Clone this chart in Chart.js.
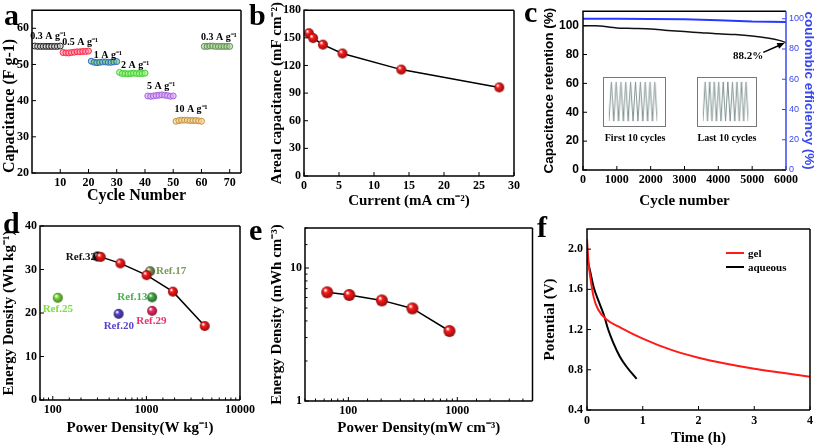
<!DOCTYPE html>
<html>
<head>
<meta charset="utf-8">
<script src="https://cdn.jsdelivr.net/npm/chart.js@4.4.0/dist/chart.umd.min.js"></script>
<style>
body{margin:0;background:#fff;width:817px;height:447px;position:relative;overflow:hidden;}
canvas{position:absolute;}
.letter{position:absolute;font-family:"Liberation Serif",serif;font-weight:bold;font-size:30px;line-height:30px;color:#000;}
.leg{position:absolute;font-family:"Liberation Serif",serif;font-weight:bold;font-size:11px;line-height:12px;}
.legline{position:absolute;height:2px;}
</style>
</head>
<body>
<canvas id="chartA" width="255" height="205" style="left:0;top:0"></canvas>
<canvas id="chartB" width="255" height="210" style="left:268px;top:0"></canvas>
<canvas id="chartC" width="276" height="210" style="left:541px;top:0"></canvas>
<canvas id="insetFirst" width="63" height="50" style="left:603px;top:77px;border:1px solid #777"></canvas>
<canvas id="insetLast" width="60" height="50" style="left:697px;top:77px;border:1px solid #777"></canvas>
<canvas id="chartD" width="258" height="222" style="left:0;top:215px"></canvas>
<canvas id="chartE" width="272" height="222" style="left:268px;top:215px"></canvas>
<canvas id="chartF" width="276" height="232" style="left:541px;top:215px"></canvas>

<div class="letter" style="left:4px;top:0px">a</div>
<div class="letter" style="left:249px;top:0px">b</div>
<div class="letter" style="left:524px;top:-3px">c</div>
<div class="letter" style="left:3px;top:208px">d</div>
<div class="letter" style="left:249px;top:215px">e</div>
<div class="letter" style="left:537px;top:212px">f</div>

<div class="legline" style="left:726px;top:252px;width:18px;background:#ff1a1a"></div>
<div class="leg" style="left:748px;top:247px">gel</div>
<div class="legline" style="left:726px;top:266px;width:18px;background:#000"></div>
<div class="leg" style="left:748px;top:261px">aqueous</div>

<script>
// ---------- panel a : rate capability ----------
var cycA = [];
for (var i = 1; i <= 70; i++) cycA.push(i);
var capA03 = [55.1, 55.0, 55.0, 55.0, 55.0, 55.0, 55.0, 55.0, 55.0, 55.1];
var capA05 = [53.3, 53.2, 53.2, 53.3, 53.4, 53.5, 53.5, 53.6, 53.6, 53.7];
var capA1 = [50.9, 50.6, 50.5, 50.6, 50.7, 50.7, 50.6, 50.6, 50.7, 50.8];
var capA2 = [47.8, 47.5, 47.5, 47.4, 47.5, 47.6, 47.5, 47.5, 47.5, 47.6];
var capA5 = [41.3, 41.2, 41.3, 41.4, 41.5, 41.6, 41.5, 41.4, 41.2, 41.3];
var capA10 = [34.3, 34.5, 34.6, 34.6, 34.6, 34.5, 34.5, 34.5, 34.4, 34.3];
var capA03b = [55.0, 55.0, 55.1, 55.1, 55.0, 55.0, 55.0, 55.0, 55.0, 55.0];
var tickAx = [10, 20, 30, 40, 50, 60, 70];
var tickAy = [20, 30, 40, 50, 60];
var rateLabels = ['0.3 A g\u207B\u00B9', '0.5 A g\u207B\u00B9', '1 A g\u207B\u00B9', '2 A g\u207B\u00B9', '5 A g\u207B\u00B9', '10 A g\u207B\u00B9', '0.3 A g\u207B\u00B9'];
var rateLabelX = [5.7, 17, 26.9, 36.5, 45.7, 56.3, 66.2];
var rateLabelY = [57.7, 56.0, 52.6, 49.6, 43.8, 37.5, 57.4];

// ---------- panel b : areal capacitance ----------
var currentB = [0.7, 1.3, 2.7, 5.5, 13.9, 27.9];
var arealB = [155, 149.7, 142.6, 133, 115.5, 96.2];

// ---------- panel c : cycling ----------
var cycC = [0, 300, 600, 800, 1000, 1500, 2000, 2500, 3000, 3500, 4000, 4500, 5000, 5500, 5800, 6000];
var retC = [100, 99.9, 99.6, 98.8, 98.4, 98.1, 97.7, 96.7, 95.9, 95.1, 94.3, 93.8, 92.8, 91.2, 89.8, 88.2];
var cycEffC = [0, 1000, 2000, 3000, 4000, 5000, 6000];
var effC = [100, 100, 99.9, 99.6, 99.0, 98.2, 97.9];
var tickCy = [0, 20, 40, 60, 80, 100];
var zigFirst = [0, 1, 0, 1, 0, 1, 0, 1, 0, 1, 0, 1, 0, 1, 0, 1, 0, 1, 0, 1, 0];
var zigLast = [0, 1, 0, 1, 0, 1, 0, 1, 0, 1, 0, 1, 0, 1, 0, 1, 0, 1, 0, 1, 0];

// ---------- panel d : Ragone (mass) ----------
var powerD = [325, 528, 1005, 1920, 4200];
var energyD = [32.9, 31.4, 28.7, 24.9, 17.0];
var refNames = ['Ref.32', 'Ref.17', 'Ref.13', 'Ref.29', 'Ref.20', 'Ref.25'];
var refPower = [300, 1095, 1150, 1150, 505, 113];
var refEnergy = [33.0, 29.6, 23.6, 20.5, 19.8, 23.5];
var refColors = ['#111111', '#7b9a55', '#46b04c', '#f0306a', '#5a45cc', '#7be03c'];
var refLabelX = [200, 1834, 710, 1130, 507, 113];
var refLabelY = [32.9, 29.7, 23.7, 18.2, 17.0, 20.9];

// ---------- panel e : Ragone (volume) ----------
var powerE = [64, 102, 203, 387, 847];
var energyE = [6.57, 6.27, 5.71, 4.97, 3.36];

// ---------- panel f : self discharge ----------
var timeGel = [0, 0.03, 0.06, 0.12, 0.2, 0.35, 0.6, 1.0, 1.5, 2.0, 2.5, 3.0, 3.5, 4.0];
var potGel = [2.1, 1.85, 1.72, 1.52, 1.4, 1.3, 1.22, 1.11, 1.0, 0.92, 0.86, 0.81, 0.77, 0.73];
var timeAq = [0, 0.06, 0.12, 0.21, 0.3, 0.38, 0.47, 0.59, 0.71, 0.89];
var potAq = [1.92, 1.77, 1.62, 1.48, 1.35, 1.2, 1.07, 0.93, 0.83, 0.71];
var tickFy = [0.4, 0.8, 1.2, 1.6, 2.0];

/******************************************************/
// helpers
var SERIF = '"Liberation Serif", "Times New Roman", serif';
var SANS = '"Liberation Sans", Arial, sans-serif';

function pts(xs, ys) {
    var out = [];
    for (var i = 0; i < xs.length; i++) out.push({x: xs[i], y: ys[i]});
    return out;
}

// shaded ball used as a marker
function sphere(color, r) {
    var c = document.createElement('canvas');
    c.width = c.height = r * 2 + 2;
    var g = c.getContext('2d');
    var grd = g.createRadialGradient(r + 1 - r * 0.35, r + 1 - r * 0.4, r * 0.1, r + 1, r + 1, r);
    grd.addColorStop(0, '#ffffff');
    grd.addColorStop(0.3, color);
    grd.addColorStop(1, shade(color));
    g.fillStyle = grd;
    g.beginPath();
    g.arc(r + 1, r + 1, r, 0, Math.PI * 2);
    g.fill();
    return c;
}
function shade(hex) {
    var n = parseInt(hex.slice(1), 16);
    var r = Math.round(((n >> 16) & 255) * 0.55), gg = Math.round(((n >> 8) & 255) * 0.55), b = Math.round((n & 255) * 0.55);
    return 'rgb(' + r + ',' + gg + ',' + b + ')';
}

// replace the generated ticks with a fixed list
function setTicks(list) {
    return function (scale) {
        scale.ticks = list.map(function (v) { return {value: v}; });
    };
}
function fixW(w) { return function (s) { s.width = w; }; }
function fixH(h) { return function (s) { s.height = h; }; }

function logLabel(v) {
    var l = Math.log10(v);
    return Math.abs(l - Math.round(l)) < 1e-6 ? String(Math.round(v)) : '';
}
function plain(v) { return String(v); }

// box frame + inward tick marks + free text in data coords
var framePlugin = {
    id: 'frameBox',
    afterDraw: function (chart) {
        var o = chart.options.plugins.frameBox;
        if (o === false || (o && o.off)) return;
        o = o || {};
        var ctx = chart.ctx, ca = chart.chartArea;
        ctx.save();
        Object.keys(chart.scales).forEach(function (k) {
            var s = chart.scales[k];
            if (s.options.display === false) return;
            ctx.strokeStyle = s.options.ticks.color || '#000';
            ctx.lineWidth = 1;
            s.ticks.forEach(function (t) {
                var major = t.label !== '' && t.label !== undefined;
                var len = major ? 4 : 2.5;
                var p = s.getPixelForValue(t.value);
                ctx.beginPath();
                if (s.position === 'bottom') { ctx.moveTo(p, ca.bottom); ctx.lineTo(p, ca.bottom - len); }
                else if (s.position === 'left') { ctx.moveTo(ca.left, p); ctx.lineTo(ca.left + len, p); }
                else if (s.position === 'right') { ctx.moveTo(ca.right, p); ctx.lineTo(ca.right - len, p); }
                ctx.stroke();
            });
        });
        ctx.lineWidth = 1.5;
        ctx.strokeStyle = '#000';
        ctx.beginPath();
        ctx.moveTo(ca.right, ca.top); ctx.lineTo(ca.left, ca.top); ctx.lineTo(ca.left, ca.bottom); ctx.lineTo(ca.right, ca.bottom);
        ctx.stroke();
        ctx.strokeStyle = o.rightColor || '#000';
        ctx.beginPath();
        ctx.moveTo(ca.right, ca.top); ctx.lineTo(ca.right, ca.bottom);
        ctx.stroke();

        (o.texts || []).forEach(function (t) {
            var xs = chart.scales[t.xAxis || 'x'], ys = chart.scales[t.yAxis || 'y'];
            ctx.fillStyle = t.color || '#000';
            ctx.font = 'bold ' + (t.size || 11) + 'px ' + SERIF;
            ctx.textAlign = 'center';
            ctx.textBaseline = 'middle';
            ctx.fillText(t.text, xs.getPixelForValue(t.x), ys.getPixelForValue(t.y));
        });
        (o.arrows || []).forEach(function (a) {
            var xs = chart.scales.x, ys = chart.scales.y;
            var x1 = xs.getPixelForValue(a.x1), y1 = ys.getPixelForValue(a.y1);
            var x2 = xs.getPixelForValue(a.x2), y2 = ys.getPixelForValue(a.y2);
            var ang = Math.atan2(y2 - y1, x2 - x1);
            ctx.strokeStyle = '#000'; ctx.fillStyle = '#000'; ctx.lineWidth = 1.5;
            ctx.beginPath(); ctx.moveTo(x1, y1); ctx.lineTo(x2 - 5 * Math.cos(ang), y2 - 5 * Math.sin(ang)); ctx.stroke();
            ctx.beginPath();
            ctx.moveTo(x2, y2);
            ctx.lineTo(x2 - 8 * Math.cos(ang - 0.4), y2 - 8 * Math.sin(ang - 0.4));
            ctx.lineTo(x2 - 8 * Math.cos(ang + 0.4), y2 - 8 * Math.sin(ang + 0.4));
            ctx.closePath(); ctx.fill();
        });
        ctx.restore();
    }
};
Chart.register(framePlugin);

function axisTitle(text, size, family, color, align) {
    return {display: true, text: text, color: color || '#000', padding: 0, align: align || 'center',
        font: {family: family || SERIF, weight: 'bold', size: size}};
}
function tickFont(size, family) {
    return {family: family || SERIF, weight: 'bold', size: size || 12};
}
var noGrid = {display: false, drawTicks: false};
var noBorder = {display: false};

function baseOpts() {
    return {
        responsive: false,
        maintainAspectRatio: false,
        animation: false,
        devicePixelRatio: 1,
        plugins: {legend: {display: false}, tooltip: {enabled: false}},
        elements: {line: {tension: 0}}
    };
}

/******************************************************/
// panel a
var aColors = [['#222222', 'rgba(200,200,200,0.5)'], ['#ff2a4a', 'rgba(255,140,160,0.6)'], ['#2f66c8', 'rgba(110,200,110,0.6)'],
    ['#3ccc30', 'rgba(150,240,120,0.6)'], ['#a860e0', 'rgba(210,170,240,0.6)'], ['#c8903a', 'rgba(240,210,150,0.6)'], ['#5f8f55', 'rgba(170,210,150,0.6)']];
var aGroups = [capA03, capA05, capA1, capA2, capA5, capA10, capA03b];
var aSets = aGroups.map(function (g, gi) {
    return {
        data: pts(cycA.slice(gi * 10, gi * 10 + 10), g),
        showLine: false,
        pointRadius: 3,
        borderWidth: 1,
        pointBorderColor: aColors[gi][0],
        pointBackgroundColor: aColors[gi][1]
    };
});
var optA = baseOpts();
optA.layout = {padding: {top: 3, right: 14}};
optA.scales = {
    x: {type: 'linear', min: 0, max: 74, grid: noGrid, border: noBorder,
        ticks: {color: '#000', font: tickFont(12), padding: 3, autoSkip: false, maxRotation: 0},
        afterBuildTicks: setTicks(tickAx),
        title: axisTitle('Cycle Number', 16), afterFit: fixH(32)},
    y: {min: 20, max: 65, grid: noGrid, border: noBorder,
        ticks: {color: '#000', font: tickFont(12), padding: 3, autoSkip: false},
        afterBuildTicks: setTicks(tickAy),
        title: axisTitle('Capacitance (F g-1)', 16, SERIF, '#000', 'start'), afterFit: fixW(32)}
};
optA.plugins.frameBox = {texts: rateLabels.map(function (t, i) {
    return {text: t, x: rateLabelX[i], y: rateLabelY[i], size: 10};
})};
new Chart(document.getElementById('chartA'), {type: 'scatter', data: {datasets: aSets}, options: optA});

/******************************************************/
// panel b
var optB = baseOpts();
optB.layout = {padding: {top: 6, right: 6}};
optB.scales = {
    x: {type: 'linear', min: 0, max: 30, grid: noGrid, border: noBorder,
        ticks: {stepSize: 5, color: '#000', font: tickFont(12), padding: 3},
        title: axisTitle('Current (mA cm\u207B\u00B2)', 15), afterFit: fixH(34)},
    y: {min: 0, max: 180, grid: noGrid, border: noBorder,
        ticks: {stepSize: 30, color: '#000', font: tickFont(12), padding: 3},
        title: axisTitle('Areal capacitance (mF cm\u207B\u00B2)', 15), afterFit: fixW(36)}
};
new Chart(document.getElementById('chartB'), {
    type: 'scatter',
    data: {datasets: [{data: pts(currentB, arealB), showLine: true, borderColor: '#000', borderWidth: 1.5,
        pointStyle: sphere('#ff1a1a', 5), pointRadius: 5}]},
    options: optB
});

/******************************************************/
// panel c
var optC = baseOpts();
optC.layout = {padding: {top: 7}};
optC.scales = {
    x: {type: 'linear', min: 0, max: 6000, grid: noGrid, border: noBorder,
        ticks: {stepSize: 1000, color: '#000', font: tickFont(12), padding: 3, callback: plain, maxRotation: 0},
        title: axisTitle('Cycle number', 15), afterFit: fixH(40)},
    y: {position: 'left', min: 0, max: 110, grid: noGrid, border: noBorder,
        ticks: {color: '#000', font: tickFont(12, SANS), padding: 4, autoSkip: false},
        afterBuildTicks: setTicks(tickCy),
        title: axisTitle('Capacitance retention (%)', 13.5, SANS), afterFit: fixW(42)},
    y2: {position: 'right', min: 0, max: 105, grid: noGrid, border: noBorder,
        ticks: {color: '#3a48ee', font: {family: SANS, size: 9}, padding: 3, autoSkip: false},
        afterBuildTicks: setTicks(tickCy),
        title: axisTitle('coulombic efficiency (%)', 13.5, SANS, '#3a48ee'), afterFit: fixW(31)}
};
optC.plugins.frameBox = {
    rightColor: '#3a48ee',
    texts: [
        {text: '88.2%', x: 4877, y: 79, size: 11},
        {text: 'First 10 cycles', x: 1537, y: 21.6, size: 10},
        {text: 'Last 10 cycles', x: 4256, y: 21.6, size: 10}
    ],
    arrows: [{x1: 5330, y1: 81.5, x2: 5960, y2: 88}]
};
new Chart(document.getElementById('chartC'), {
    type: 'scatter',
    data: {datasets: [
        {data: pts(cycEffC, effC), yAxisID: 'y2', showLine: true, borderColor: '#2838ff', borderWidth: 2, pointRadius: 0},
        {data: pts(cycC, retC), yAxisID: 'y', showLine: true, borderColor: '#111', borderWidth: 1.5, pointRadius: 0, tension: 0.3}
    ]},
    options: optC
});

function inset(id, zig) {
    var o = baseOpts();
    o.layout = {padding: {left: 5, right: 8, top: 4, bottom: 5}};
    o.scales = {x: {type: 'linear', display: false, min: 0, max: zig.length - 1},
        y: {display: false, min: 0, max: 1}};
    o.plugins.frameBox = {off: true};
    var xs = zig.map(function (v, i) { return i; });
    new Chart(document.getElementById(id), {
        type: 'scatter',
        data: {datasets: [{data: pts(xs, zig), showLine: true, borderColor: '#7f9190', borderWidth: 1, pointRadius: 0}]},
        options: o
    });
}

/******************************************************/
// panel d
var optD = baseOpts();
optD.layout = {padding: {top: 11, right: 16}};
optD.scales = {
    x: {type: 'logarithmic', min: 73, max: 10000, grid: noGrid, border: noBorder,
        ticks: {color: '#000', font: tickFont(12), padding: 3, callback: logLabel, autoSkip: false, maxRotation: 0},
        title: axisTitle('Power Density(W kg\u207B\u00B9)', 15), afterFit: fixH(37)},
    y: {min: 0, max: 40, grid: noGrid, border: noBorder,
        ticks: {stepSize: 10, color: '#000', font: tickFont(12), padding: 3},
        title: axisTitle('Energy Density (Wh kg\u207B\u00B9)', 15), afterFit: fixW(40)}
};
optD.plugins.frameBox = {texts: refNames.map(function (n, i) {
    return {text: n, x: refLabelX[i], y: refLabelY[i], color: refColors[i], size: 11};
})};
var dSets = [{data: pts(powerD, energyD), showLine: true, borderColor: '#000', borderWidth: 1.5,
    pointStyle: sphere('#ff1a1a', 5), pointRadius: 5}];
refNames.forEach(function (n, i) {
    dSets.push({data: [{x: refPower[i], y: refEnergy[i]}], showLine: false,
        pointStyle: sphere(refColors[i], 5), pointRadius: 5});
});
new Chart(document.getElementById('chartD'), {type: 'scatter', data: {datasets: dSets}, options: optD});

/******************************************************/
// panel e
var optE = baseOpts();
optE.layout = {padding: {top: 13, right: 5}};
optE.scales = {
    x: {type: 'logarithmic', min: 40, max: 4900, grid: noGrid, border: noBorder,
        ticks: {color: '#000', font: tickFont(12), padding: 3, callback: logLabel, autoSkip: false, maxRotation: 0},
        title: axisTitle('Power Density(mW cm\u207B\u00B3)', 15), afterFit: fixH(36)},
    y: {type: 'logarithmic', min: 1, max: 20, grid: noGrid, border: noBorder,
        ticks: {color: '#000', font: tickFont(12), padding: 3, callback: logLabel, autoSkip: false},
        title: axisTitle('Energy Density (mWh cm\u207B\u00B3)', 15), afterFit: fixW(37)}
};
new Chart(document.getElementById('chartE'), {
    type: 'scatter',
    data: {datasets: [{data: pts(powerE, energyE), showLine: true, borderColor: '#000', borderWidth: 1.5,
        pointStyle: sphere('#ff1a1a', 6), pointRadius: 6}]},
    options: optE
});

/******************************************************/
// panel f
var optF = baseOpts();
optF.layout = {padding: {top: 14, right: 5}};
optF.scales = {
    x: {type: 'linear', min: 0, max: 4, grid: noGrid, border: noBorder,
        ticks: {stepSize: 1, color: '#000', font: tickFont(12), padding: 4},
        title: axisTitle('Time (h)', 15), afterFit: fixH(37)},
    y: {min: 0.4, max: 2.2, grid: noGrid, border: noBorder,
        ticks: {color: '#000', font: tickFont(12), padding: 4, autoSkip: false, callback: function (v) { return v.toFixed(1); }},
        afterBuildTicks: setTicks(tickFy),
        title: axisTitle('Potential (V)', 15), afterFit: fixW(46)}
};
new Chart(document.getElementById('chartF'), {
    type: 'scatter',
    data: {datasets: [
        {data: pts(timeGel, potGel), showLine: true, borderColor: '#ff1a1a', borderWidth: 2, pointRadius: 0, cubicInterpolationMode: 'monotone'},
        {data: pts(timeAq, potAq), showLine: true, borderColor: '#000', borderWidth: 2, pointRadius: 0, cubicInterpolationMode: 'monotone'}
    ]},
    options: optF
});

inset('insetFirst', zigFirst);
inset('insetLast', zigLast);
</script>
</body>
</html>
